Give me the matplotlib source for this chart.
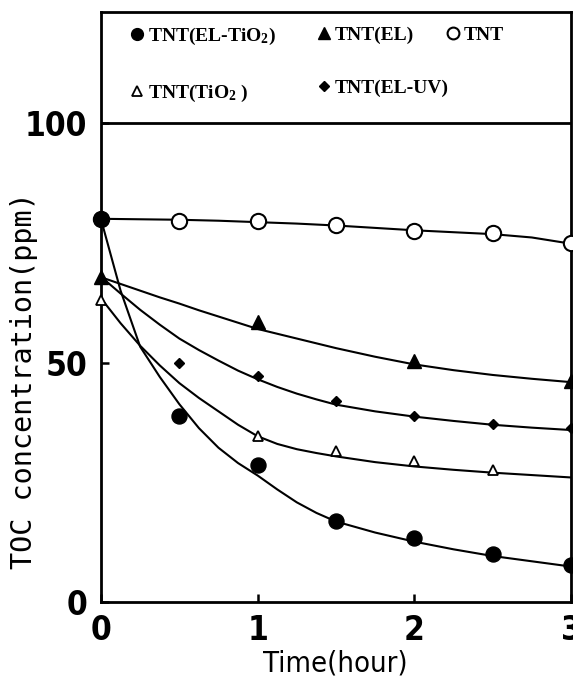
import matplotlib
matplotlib.use("Agg")
import matplotlib.pyplot as plt
from matplotlib.lines import Line2D

# ---------------- data ----------------
# fitted curves
t_fit = [0, 0.125, 0.25, 0.375, 0.5, 0.625, 0.75, 0.875, 1.0, 1.125, 1.25, 1.375, 1.5,
         1.75, 2.0, 2.25, 2.5, 2.75, 3.0]
fit_el_tio2 = [79.9, 65.0, 53.3, 47.0, 41.3, 36.3, 32.2, 29.0, 26.4, 23.5, 20.8, 18.6, 16.8,
               14.5, 12.6, 11.0, 9.6, 8.5, 7.4]
fit_el = [67.8, 66.4, 65.0, 63.6, 62.3, 60.9, 59.6, 58.3, 57.0, 56.0, 55.0, 54.0, 53.0,
          51.2, 49.6, 48.4, 47.4, 46.6, 45.9]
fit_tnt = [80.0, 79.95, 79.9, 79.85, 79.8, 79.7, 79.6, 79.45, 79.3, 79.15, 79.0, 78.8, 78.6,
           78.1, 77.6, 77.2, 76.8, 76.1, 74.8]
fit_tio2 = [63.4, 58.2, 53.5, 49.4, 45.7, 42.6, 39.8, 37.0, 34.6, 33.0, 31.9, 31.1, 30.4,
            29.2, 28.3, 27.6, 27.0, 26.5, 26.0]
fit_el_uv = [67.9, 64.4, 61.0, 57.9, 55.0, 52.6, 50.4, 48.3, 46.5, 44.9, 43.5, 42.3, 41.2,
             39.8, 38.7, 37.8, 37.0, 36.4, 35.9]

# measured points
t_pts = [0, 0.5, 1, 1.5, 2, 2.5, 3]
pts_el_tio2 = [79.9, 38.8, 28.6, 17.0, 13.3, 10.0, 7.7]
pts_tnt = [80.0, 79.6, 79.5, 78.7, 77.5, 77.0, 74.9]
t_el = [0, 1, 2, 3]
pts_el = [67.8, 58.4, 50.3, 46.2]
t_tio2 = [0, 1, 1.5, 2, 2.5]
pts_tio2 = [63.0, 34.7, 31.6, 29.4, 27.6]
t_uv = [0.5, 1, 1.5, 2, 2.5, 3]
pts_uv = [50.0, 47.2, 42.0, 38.8, 37.1, 36.3]

x_ticks = [0, 1, 2, 3]
x_ticklabels = ["0", "1", "2", "3"]
y_ticks = [0, 50, 100]
y_ticklabels = ["0", "50", "100"]

labels = {
    "el_tio2": r"TNT(EL-TiO$\mathregular{_2}$)",
    "el": "TNT(EL)",
    "tnt": "TNT",
    "tio2": r"TNT(TiO$\mathregular{_2}$ )",
    "el_uv": "TNT(EL-UV)",
}

# ---------------- figure ----------------
W, H = 573, 682
fig = plt.figure(figsize=(W / 100, H / 100), dpi=100)
ax = fig.add_axes([101 / W, 80 / H, 470 / W, 590 / H])

lw = 1.5
k = "black"
for curve in (fit_tnt, fit_el, fit_el_uv, fit_tio2, fit_el_tio2):
    ax.plot(t_fit, curve, color=k, lw=lw, zorder=2)

ax.plot(t_pts, pts_tnt, ls="none", marker="o", ms=11, mfc="white", mec=k, mew=1.5, clip_on=False, zorder=3)
ax.plot(t_pts, pts_el_tio2, ls="none", marker="o", ms=10.8, color=k, clip_on=False, zorder=4)
ax.plot(t_el, pts_el, ls="none", marker="^", ms=10, color=k, clip_on=False, zorder=4)
ax.plot(t_tio2, pts_tio2, ls="none", marker="^", ms=7.5, mfc="white", mec=k, mew=1.3, clip_on=False, zorder=4)
ax.plot(t_uv, pts_uv, ls="none", marker="D", ms=5, color=k, clip_on=False, zorder=4)

# line at 100 separating the key area
ax.axhline(100, color=k, lw=2)

ax.set_xlim(0, 3)
ax.set_ylim(0, (602 - 12) / 4.79)

tick_font = {"family": ["DejaVu Sans"], "stretch": "condensed", "weight": "bold", "size": 24}
ax.set_xticks(x_ticks)
ax.set_xticklabels(x_ticklabels, fontdict=tick_font)
ax.set_yticks(y_ticks)
ax.set_yticklabels(y_ticklabels, fontdict=tick_font)
ax.tick_params(axis="x", direction="in", length=6, width=1.8, pad=9)
ax.tick_params(axis="y", direction="in", length=6, width=1.8, pad=10)

for s in ax.spines.values():
    s.set_linewidth(2)

ax.set_xlabel("Time(hour)", family=["DejaVu Sans"], stretch="condensed", size=21)
ax.xaxis.set_label_coords(0.498, -0.080)
ax.set_ylabel("TOC concentration(ppm)", family=["DejaVu Sans Mono", "DejaVu Sans"], size=20.5)
ax.yaxis.set_label_coords(-0.134, 0.375)

# ---------------- key ----------------
leg_font = {"family": ["Liberation Serif", "DejaVu Serif"], "weight": "bold", "size": 14}
h_el_tio2 = Line2D([], [], ls="none", marker="o", ms=8.5, color=k)
h_tio2 = Line2D([], [], ls="none", marker="^", ms=7.5, mfc="white", mec=k, mew=1.3)
h_el = Line2D([], [], ls="none", marker="^", ms=8.5, color=k)
h_el_uv = Line2D([], [], ls="none", marker="D", ms=5.5, color=k)
h_tnt = Line2D([], [], ls="none", marker="o", ms=8.5, mfc="white", mec=k, mew=1.5)

common = dict(frameon=False, prop=leg_font, handlelength=0.6, handletextpad=0.25,
              borderpad=0, borderaxespad=0, labelspacing=1.85, loc="upper left",
              bbox_transform=fig.transFigure)
top_y = 1 - 26 / H
leg1 = ax.legend([h_el_tio2, h_tio2], [labels["el_tio2"], labels["tio2"]],
                 bbox_to_anchor=(131 / W, top_y), **common)
ax.add_artist(leg1)
leg2 = ax.legend([h_el, h_el_uv], [labels["el"], labels["el_uv"]],
                 bbox_to_anchor=(318 / W, top_y), **common)
ax.add_artist(leg2)
ax.legend([h_tnt], [labels["tnt"]], bbox_to_anchor=(447.5 / W, top_y), **common)

fig.savefig("out.png", dpi=100)
